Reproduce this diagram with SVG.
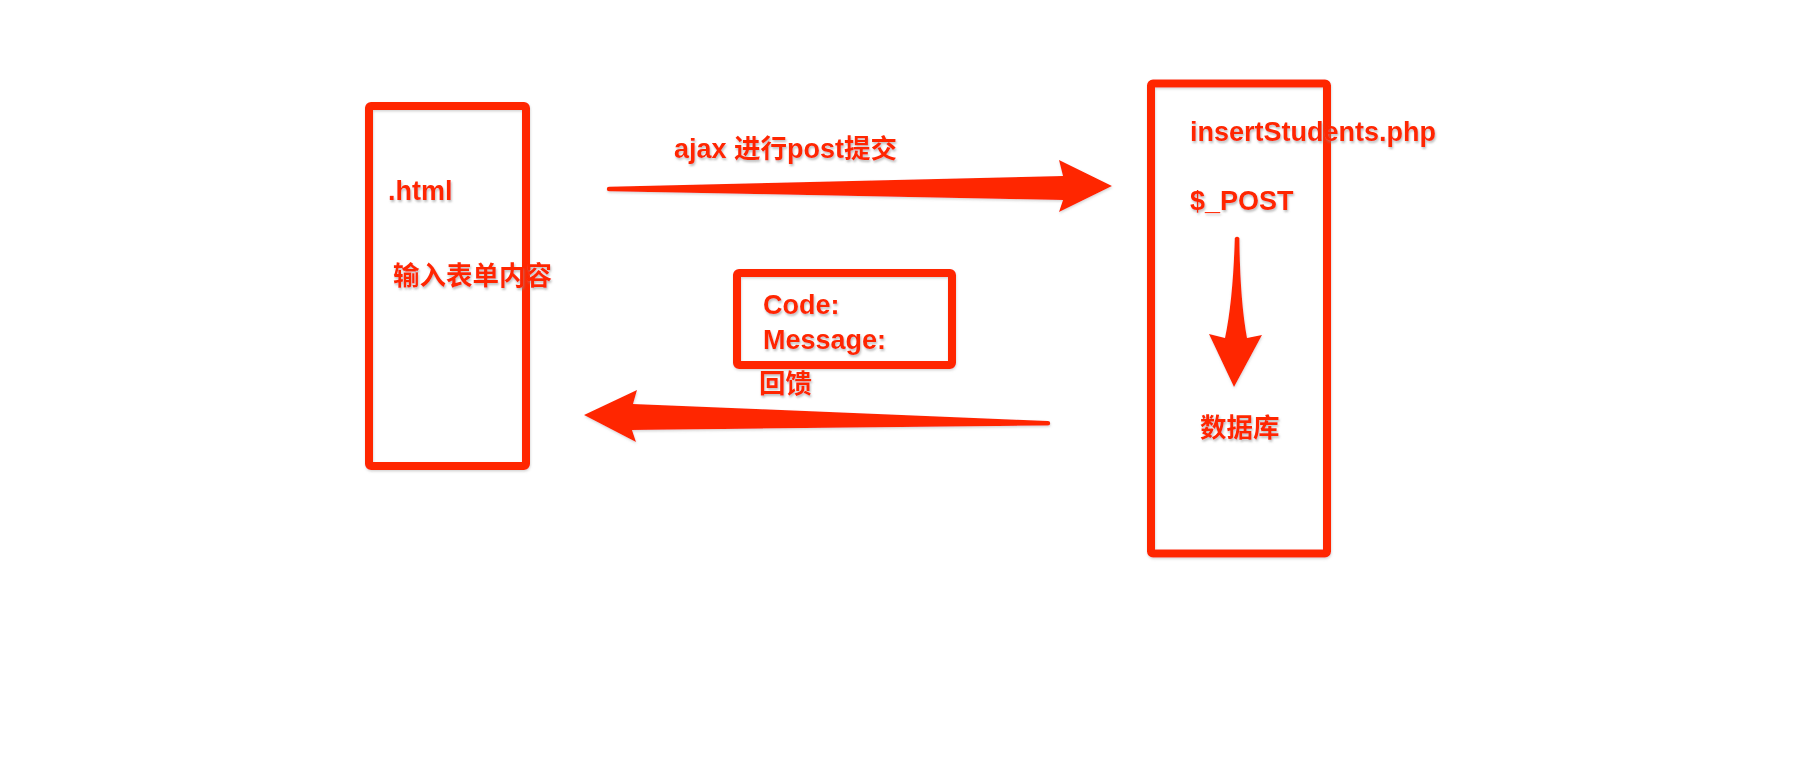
<svg xmlns="http://www.w3.org/2000/svg" width="1810" height="767" viewBox="0 0 1810 767">
<defs>
<style>
.box{fill:none;stroke:#FF2600;stroke-width:8;stroke-linejoin:round}
.arrow{fill:#FF2600}
.t{font-family:"Liberation Sans","Noto Sans CJK SC",Arial,sans-serif;font-weight:bold;font-size:27px;fill:#FF2600}
.cjk{font-family:"Noto Sans CJK SC","Liberation Sans",sans-serif;font-weight:bold;font-size:26.5px;fill:#FF2600}
</style>
<filter id="ts" x="-10%" y="-30%" width="130%" height="170%">
<feDropShadow dx="1" dy="2" stdDeviation="1.2" flood-color="#888" flood-opacity="0.55"/>
</filter>
<filter id="bs" x="-10%" y="-10%" width="120%" height="120%">
<feDropShadow dx="0.5" dy="1.5" stdDeviation="1" flood-color="#888" flood-opacity="0.35"/>
</filter>
</defs>
<rect width="1810" height="767" fill="#ffffff"/>
<g id="client">
<rect class="box" x="369" y="106" width="157" height="360" rx="2" filter="url(#bs)"/>
<text class="t" x="388" y="200" filter="url(#ts)">.html</text>
<text class="cjk" x="393" y="285" filter="url(#ts)">输入表单内容</text>
</g>
<g id="server">
<rect class="box" x="1151" y="83.5" width="176" height="470" rx="2" filter="url(#bs)"/>
<text class="t" x="1190" y="141" filter="url(#ts)">insertStudents.php</text>
<text class="t" x="1190" y="210" filter="url(#ts)">$_POST</text>
<text class="cjk" x="1200" y="437" filter="url(#ts)">数据库</text>
</g>
<g id="response">
<rect class="box" x="737" y="273" width="215" height="92" rx="2" filter="url(#bs)"/>
<text class="t" x="763" y="314" filter="url(#ts)">Code:</text>
<text class="t" x="763" y="349" filter="url(#ts)">Message:</text>
</g>
<g id="connectors">
<g filter="url(#bs)">
<path class="arrow" d="M609,186.8 L1063,176 L1059,160 L1112,186 L1059,212 L1063,200 L609,191.2 A2.2,2.2 0 0 1 609,186.8 Z"/>
<path class="arrow" d="M1048,421 L633,404 L637,390 L584,415 L636,442 L632,430 L1048,425.4 A2.2,2.2 0 0 0 1048,421 Z"/>
<path class="arrow" d="M1234.8,238 Q1237,235.5 1239.4,238 Q1240,300 1247,338 L1262,335 L1234,387 L1209,334 L1225,338 Q1233,300 1234.8,238 Z"/>
</g>
<text class="t" x="674" y="158" filter="url(#ts)">ajax <tspan class="cjk">进行</tspan>post<tspan class="cjk">提交</tspan></text>
<text class="cjk" x="759" y="393" filter="url(#ts)">回馈</text>
</g>
</svg>
